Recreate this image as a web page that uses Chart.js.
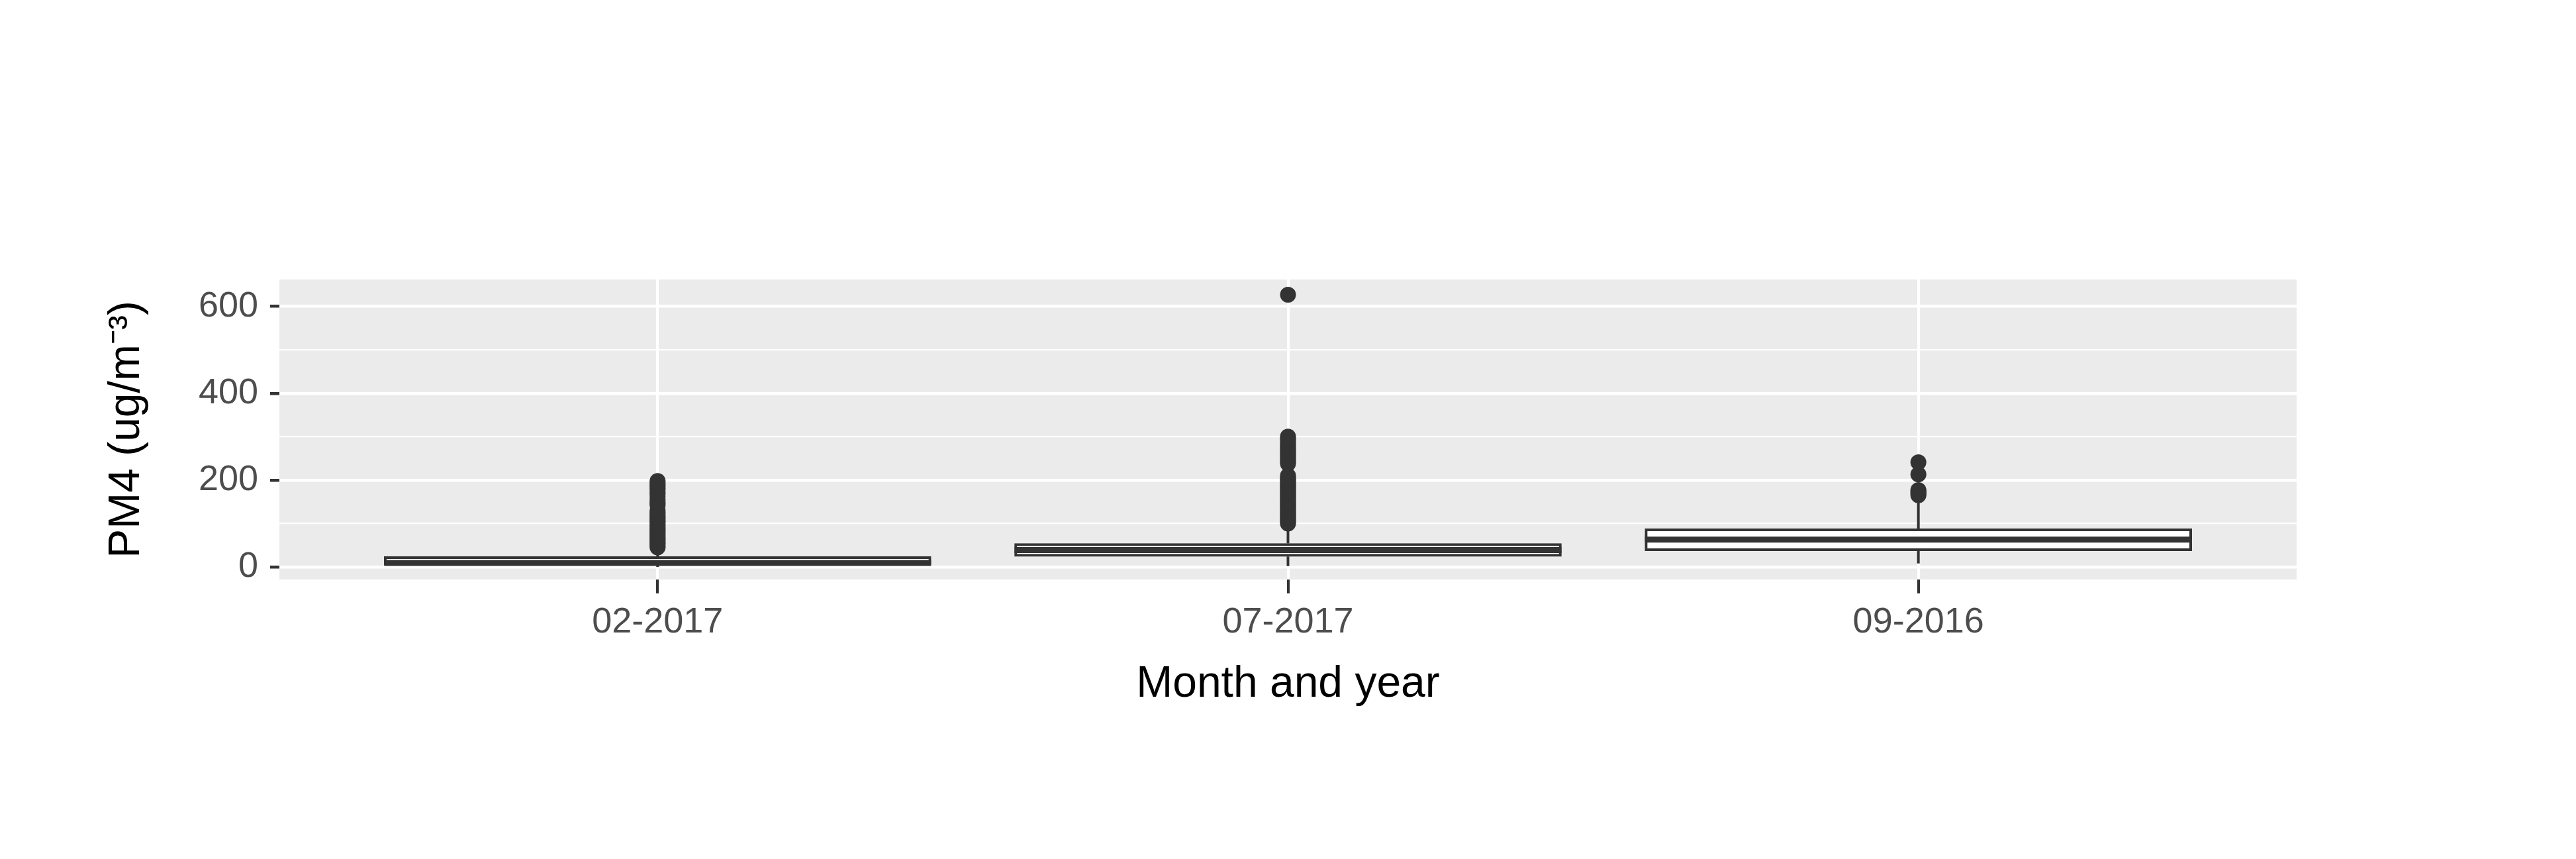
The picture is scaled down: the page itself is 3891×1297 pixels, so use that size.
<!DOCTYPE html>
<html>
<head>
<meta charset="utf-8">
<script src="https://cdn.jsdelivr.net/npm/chart.js@4/dist/chart.umd.min.js"></script>
<style>
  html, body { margin: 0; padding: 0; background: #fff; overflow: hidden; }
  canvas { display: block; }
</style>
</head>
<body>
<canvas id="chart1" width="3891" height="1297" style="width:3891px;height:1297px"></canvas>
<script>
const categories = ['02-2017', '07-2017', '09-2016'];
const whiskerLow = [0, 2, 8];
const q1 = [5, 24, 37];
const medians = [9, 39, 63];
const q3 = [24, 54, 88];
const whiskerHigh = [42, 98, 160];
const yTicks = [0, 100, 200, 300, 400, 500, 600];

const outliers1 = [45, 48, 52, 55, 58, 62, 65, 68, 72, 75, 78, 82, 85, 88, 92, 95, 98, 102, 105, 108,
    112, 115, 118, 122, 126, 130, 142, 146, 150, 155, 162, 168, 172, 178, 182, 186, 190, 194, 198];
const outliers2 = [100, 103, 106, 110, 113, 116, 120, 123, 126, 130, 133, 136, 140, 143, 146, 150,
    153, 156, 160, 163, 166, 170, 173, 176, 180, 183, 186, 190, 193, 196, 200, 203, 206, 210,
    238, 242, 246, 250, 254, 258, 262, 266, 270, 274, 278, 282, 286, 292, 296, 300, 627];
const outliers3 = [165, 168, 171, 174, 177, 213, 241];

const ink = '#333333';

// box bodies
const boxData = categories.map((c, i) => ({ x: i + 1, y: [q1[i], q3[i]] }));

// whiskers, broken by nulls
const whiskerData = [];
categories.forEach((c, i) => {
    whiskerData.push({ x: i + 1, y: whiskerLow[i] }, { x: i + 1, y: q1[i] }, { x: i + 1, y: null });
    whiskerData.push({ x: i + 1, y: q3[i] }, { x: i + 1, y: whiskerHigh[i] }, { x: i + 1, y: null });
});

const medianData = categories.map((c, i) => ({ x: i + 1, y: medians[i] }));

const outlierData = [];
[outliers1, outliers2, outliers3].forEach((list, i) => list.forEach(v => outlierData.push({ x: i + 1, y: v })));

// grey ggplot panel
const panelBg = {
    id: 'panelBg',
    beforeDraw(chart) {
        const { ctx, chartArea: a } = chart;
        ctx.save();
        ctx.fillStyle = '#EBEBEB';
        ctx.fillRect(a.left, a.top, a.right - a.left, a.bottom - a.top);
        ctx.restore();
    }
};

new Chart(document.getElementById('chart1'), {
    data: {
        datasets: [
            {
                type: 'line',
                data: whiskerData,
                borderColor: ink,
                borderWidth: 4,
                pointRadius: 0,
                spanGaps: false,
                order: 3
            },
            {
                type: 'bar',
                data: boxData,
                backgroundColor: '#ffffff',
                borderColor: ink,
                borderWidth: 4,
                borderSkipped: false,
                barThickness: 826,
                order: 2
            },
            {
                type: 'scatter',
                data: medianData,
                pointStyle: 'line',
                pointRadius: 413,
                borderColor: ink,
                borderWidth: 9,
                order: 1
            },
            {
                type: 'scatter',
                data: outlierData,
                pointRadius: 12,
                backgroundColor: ink,
                borderColor: ink,
                borderWidth: 0,
                order: 0
            }
        ]
    },
    plugins: [panelBg],
    options: {
        responsive: false,
        devicePixelRatio: 1,
        animation: false,
        layout: { padding: { top: 27, right: 46, left: 0, bottom: 0 } },
        plugins: { legend: { display: false }, tooltip: { enabled: false } },
        scales: {
            x: {
                type: 'linear',
                min: 0.4,
                max: 3.6,
                offset: false,
                afterBuildTicks: s => { s.ticks = [1, 2, 3].map(v => ({ value: v })); },
                afterFit: s => { s.height = 238; },
                border: { display: false },
                grid: { offset: false, color: '#ffffff', lineWidth: 4, tickColor: ink, tickLength: 21 },
                ticks: {
                    callback: v => categories[v - 1],
                    color: '#4D4D4D',
                    font: { family: 'Liberation Sans', size: 54 },
                    padding: 12,
                    maxRotation: 0
                },
                title: {
                    display: true,
                    text: 'Month and year',
                    color: '#000',
                    font: { family: 'Liberation Sans', size: 66 },
                    padding: { top: 0, bottom: 40 }
                }
            },
            y: {
                min: -29,
                max: 662,
                afterBuildTicks: s => { s.ticks = yTicks.map(v => ({ value: v })); },
                afterFit: s => { s.width = 320; },
                border: { display: false },
                grid: {
                    color: '#ffffff',
                    lineWidth: c => (c.tick && c.tick.value % 200 === 0 ? 4.5 : 2.2),
                    tickColor: c => (c.tick && c.tick.value % 200 === 0 ? ink : 'rgba(0,0,0,0)'),
                    tickLength: 14
                },
                ticks: {
                    callback: v => (v % 200 === 0 ? v : ''),
                    color: '#4D4D4D',
                    font: { family: 'Liberation Sans', size: 54 },
                    padding: 18
                },
                title: {
                    display: true,
                    text: 'PM4 (ug/m⁻³)',
                    color: '#000',
                    font: { family: 'Liberation Sans', size: 66 },
                    padding: { top: 50, bottom: 0 }
                }
            }
        }
    }
});
</script>
</body>
</html>
